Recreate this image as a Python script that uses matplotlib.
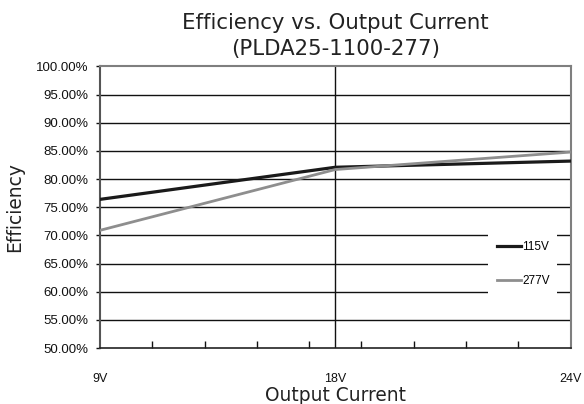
import numpy as np
import matplotlib
matplotlib.use("Agg")
import matplotlib.pyplot as plt
from matplotlib.patches import Rectangle

# data
categories = ["9V", "18V", "24V"]
eff_115v = [76.4, 82.1, 83.2]
eff_277v = [70.9, 81.7, 84.8]
y_ticks = np.arange(50, 101, 5)

tick_font = ["Liberation Sans", "DejaVu Sans"]
label_font = ["DejaVu Sans"]

fig = plt.figure(figsize=(5.84, 4.04), dpi=100)
ax = fig.add_axes([0.1712, 0.1386, 0.9769 - 0.1712, 0.8354 - 0.1386])

x = np.arange(len(categories))

# grid
for yv in y_ticks[1:-1]:
    ax.axhline(yv, color="#111111", lw=1.0, zorder=1)
ax.axvline(1, color="#111111", lw=1.0, zorder=1)

ax.plot(x, eff_115v, color="#1a1a1a", lw=2.3, label="115V", zorder=3)
ax.plot(x, eff_277v, color="#8e8e8e", lw=2.0, label="277V", zorder=3)

ax.set_xlim(0, 2)
ax.set_ylim(50, 100)

for side in ["top", "right", "left"]:
    ax.spines[side].set_color("#7f7f7f")
    ax.spines[side].set_linewidth(1.5)
ax.spines["left"].set_color("#555555")
ax.spines["bottom"].set_color("#222222")
ax.spines["bottom"].set_linewidth(1.2)

ax.set_yticks(y_ticks)
ax.set_yticklabels([f"{v:.2f}%" for v in y_ticks], fontfamily=tick_font, fontsize=9.5)
ax.tick_params(axis="y", direction="out", length=3, width=1, pad=5.5, colors="#111111")

ax.set_xticks(x)
ax.set_xticklabels(categories, fontfamily=tick_font, fontsize=9)
ax.set_xticks(np.linspace(0, 2, 10), minor=True)
ax.tick_params(axis="x", which="major", length=0, pad=18, colors="#111111")
ax.tick_params(axis="x", which="minor", direction="in", length=5, width=1, color="#111111")

ax.set_title("Efficiency vs. Output Current\n(PLDA25-1100-277)", fontfamily=label_font,
             fontsize=15.3, color="#222222", pad=8, linespacing=1.4)
ax.set_xlabel("Output Current", fontfamily=label_font, fontsize=13.4, color="#222222", labelpad=1)
ax.set_ylabel("Efficiency", fontfamily=label_font, fontsize=13.4, color="#222222", labelpad=8)

# white box behind the legend
ax.add_patch(Rectangle((0.825, 0.17), 0.146, 0.313, transform=ax.transAxes,
                       facecolor="white", edgecolor="none", zorder=2))
leg = ax.legend(loc="center", bbox_to_anchor=(0.9, 0.298), frameon=False,
                prop={"family": tick_font, "size": 8.5}, handlelength=2.0,
                handletextpad=0.1, labelspacing=1.8)
leg.set_zorder(5)

fig.savefig("out.png", dpi=100)
